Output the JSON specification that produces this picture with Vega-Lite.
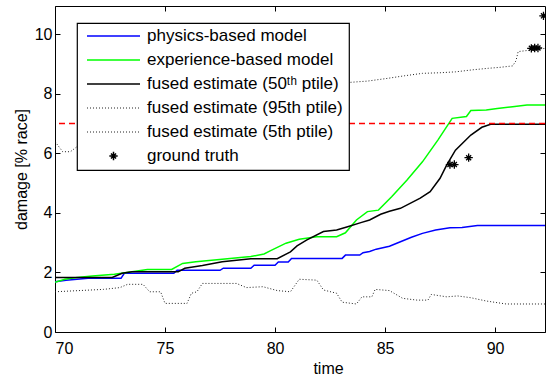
{
  "$schema": "https://vega.github.io/schema/vega-lite/v6.json",
  "width": 490,
  "height": 326,
  "autosize": {"type": "none"},
  "padding": {"left": 55, "top": 6, "right": 1, "bottom": 46},
  "background": "white",
  "config": {
    "view": {"stroke": "black", "strokeWidth": 1},
    "font": "Liberation Sans",
    "legend": {"fillColor": "white", "strokeColor": "black"},
    "axis": {"grid": false, "domain": false, "tickColor": "black", "tickWidth": 1, "labelColor": "black", "labelFontSize": 16, "labelFont": "Liberation Sans", "titleFont": "Liberation Sans", "titleFontSize": 16, "titleFontWeight": "normal", "titleColor": "black"}
  },
  "datasets": {
    "solid": [
      {"s": "physics-based model", "t": 70, "v": 1.69}, {"s": "physics-based model", "t": 70.5, "v": 1.74}, {"s": "physics-based model", "t": 71.5, "v": 1.8}, {"s": "physics-based model", "t": 73.0, "v": 1.8}, {"s": "physics-based model", "t": 73.15, "v": 1.97}, {"s": "physics-based model", "t": 75.4, "v": 1.97}, {"s": "physics-based model", "t": 75.55, "v": 2.07}, {"s": "physics-based model", "t": 77.5, "v": 2.07}, {"s": "physics-based model", "t": 77.65, "v": 2.14}, {"s": "physics-based model", "t": 78.9, "v": 2.14}, {"s": "physics-based model", "t": 79.05, "v": 2.24}, {"s": "physics-based model", "t": 80.0, "v": 2.24}, {"s": "physics-based model", "t": 80.15, "v": 2.35}, {"s": "physics-based model", "t": 80.6, "v": 2.35}, {"s": "physics-based model", "t": 80.75, "v": 2.47}, {"s": "physics-based model", "t": 83.05, "v": 2.47}, {"s": "physics-based model", "t": 83.2, "v": 2.58}, {"s": "physics-based model", "t": 83.85, "v": 2.58}, {"s": "physics-based model", "t": 84.0, "v": 2.66}, {"s": "physics-based model", "t": 84.3, "v": 2.7}, {"s": "physics-based model", "t": 84.6, "v": 2.78}, {"s": "physics-based model", "t": 85.2, "v": 2.88}, {"s": "physics-based model", "t": 85.7, "v": 3.03}, {"s": "physics-based model", "t": 86.2, "v": 3.18}, {"s": "physics-based model", "t": 86.7, "v": 3.31}, {"s": "physics-based model", "t": 87.3, "v": 3.42}, {"s": "physics-based model", "t": 87.95, "v": 3.5}, {"s": "physics-based model", "t": 88.5, "v": 3.51}, {"s": "physics-based model", "t": 89.2, "v": 3.57}, {"s": "physics-based model", "t": 92.3, "v": 3.57},
      {"s": "experience-based model", "t": 70, "v": 1.67}, {"s": "experience-based model", "t": 70.45, "v": 1.77}, {"s": "experience-based model", "t": 71.0, "v": 1.83}, {"s": "experience-based model", "t": 71.7, "v": 1.88}, {"s": "experience-based model", "t": 72.7, "v": 1.94}, {"s": "experience-based model", "t": 73.5, "v": 2.02}, {"s": "experience-based model", "t": 74.2, "v": 2.1}, {"s": "experience-based model", "t": 75.3, "v": 2.1}, {"s": "experience-based model", "t": 75.8, "v": 2.3}, {"s": "experience-based model", "t": 76.4, "v": 2.36}, {"s": "experience-based model", "t": 77.6, "v": 2.44}, {"s": "experience-based model", "t": 78.9, "v": 2.53}, {"s": "experience-based model", "t": 79.5, "v": 2.62}, {"s": "experience-based model", "t": 79.8, "v": 2.73}, {"s": "experience-based model", "t": 80.5, "v": 2.98}, {"s": "experience-based model", "t": 81.1, "v": 3.11}, {"s": "experience-based model", "t": 81.9, "v": 3.2}, {"s": "experience-based model", "t": 82.8, "v": 3.2}, {"s": "experience-based model", "t": 83.2, "v": 3.33}, {"s": "experience-based model", "t": 83.7, "v": 3.76}, {"s": "experience-based model", "t": 84.2, "v": 4.04}, {"s": "experience-based model", "t": 84.7, "v": 4.09}, {"s": "experience-based model", "t": 85.3, "v": 4.54}, {"s": "experience-based model", "t": 86.0, "v": 5.1}, {"s": "experience-based model", "t": 86.7, "v": 5.71}, {"s": "experience-based model", "t": 87.4, "v": 6.44}, {"s": "experience-based model", "t": 88.05, "v": 7.17}, {"s": "experience-based model", "t": 88.7, "v": 7.23}, {"s": "experience-based model", "t": 88.9, "v": 7.43}, {"s": "experience-based model", "t": 89.6, "v": 7.45}, {"s": "experience-based model", "t": 90.1, "v": 7.5}, {"s": "experience-based model", "t": 90.8, "v": 7.56}, {"s": "experience-based model", "t": 91.45, "v": 7.62}, {"s": "experience-based model", "t": 92.3, "v": 7.62},
      {"s": "fused estimate (50ᵗʰ ptile)", "t": 70, "v": 1.83}, {"s": "fused estimate (50ᵗʰ ptile)", "t": 72.6, "v": 1.83}, {"s": "fused estimate (50ᵗʰ ptile)", "t": 73.05, "v": 1.97}, {"s": "fused estimate (50ᵗʰ ptile)", "t": 73.5, "v": 2.02}, {"s": "fused estimate (50ᵗʰ ptile)", "t": 75.6, "v": 2.02}, {"s": "fused estimate (50ᵗʰ ptile)", "t": 75.9, "v": 2.14}, {"s": "fused estimate (50ᵗʰ ptile)", "t": 76.7, "v": 2.23}, {"s": "fused estimate (50ᵗʰ ptile)", "t": 77.6, "v": 2.36}, {"s": "fused estimate (50ᵗʰ ptile)", "t": 78.9, "v": 2.46}, {"s": "fused estimate (50ᵗʰ ptile)", "t": 80.1, "v": 2.46}, {"s": "fused estimate (50ᵗʰ ptile)", "t": 80.7, "v": 2.69}, {"s": "fused estimate (50ᵗʰ ptile)", "t": 81.0, "v": 2.89}, {"s": "fused estimate (50ᵗʰ ptile)", "t": 81.45, "v": 3.09}, {"s": "fused estimate (50ᵗʰ ptile)", "t": 82.2, "v": 3.37}, {"s": "fused estimate (50ᵗʰ ptile)", "t": 82.8, "v": 3.42}, {"s": "fused estimate (50ᵗʰ ptile)", "t": 83.3, "v": 3.53}, {"s": "fused estimate (50ᵗʰ ptile)", "t": 83.9, "v": 3.67}, {"s": "fused estimate (50ᵗʰ ptile)", "t": 84.3, "v": 3.76}, {"s": "fused estimate (50ᵗʰ ptile)", "t": 84.8, "v": 3.95}, {"s": "fused estimate (50ᵗʰ ptile)", "t": 85.2, "v": 4.05}, {"s": "fused estimate (50ᵗʰ ptile)", "t": 85.7, "v": 4.15}, {"s": "fused estimate (50ᵗʰ ptile)", "t": 86.6, "v": 4.49}, {"s": "fused estimate (50ᵗʰ ptile)", "t": 87.05, "v": 4.71}, {"s": "fused estimate (50ᵗʰ ptile)", "t": 87.5, "v": 5.16}, {"s": "fused estimate (50ᵗʰ ptile)", "t": 87.8, "v": 5.6}, {"s": "fused estimate (50ᵗʰ ptile)", "t": 88.2, "v": 6.1}, {"s": "fused estimate (50ᵗʰ ptile)", "t": 88.9, "v": 6.61}, {"s": "fused estimate (50ᵗʰ ptile)", "t": 89.4, "v": 6.87}, {"s": "fused estimate (50ᵗʰ ptile)", "t": 89.8, "v": 6.97}, {"s": "fused estimate (50ᵗʰ ptile)", "t": 92.3, "v": 6.97}
    ],
    "dotted": [
      {"s": "fused estimate (95th ptile)", "t": 70, "v": 6.39}, {"s": "fused estimate (95th ptile)", "t": 70.35, "v": 6.05}, {"s": "fused estimate (95th ptile)", "t": 70.7, "v": 6.05}, {"s": "fused estimate (95th ptile)", "t": 71.0, "v": 6.22}, {"s": "fused estimate (95th ptile)", "t": 72, "v": 6.7}, {"s": "fused estimate (95th ptile)", "t": 74, "v": 7.2}, {"s": "fused estimate (95th ptile)", "t": 76, "v": 7.5}, {"s": "fused estimate (95th ptile)", "t": 78, "v": 7.8}, {"s": "fused estimate (95th ptile)", "t": 80, "v": 8.0}, {"s": "fused estimate (95th ptile)", "t": 82, "v": 8.2}, {"s": "fused estimate (95th ptile)", "t": 83.45, "v": 8.38}, {"s": "fused estimate (95th ptile)", "t": 84.2, "v": 8.42}, {"s": "fused estimate (95th ptile)", "t": 85.1, "v": 8.51}, {"s": "fused estimate (95th ptile)", "t": 85.9, "v": 8.6}, {"s": "fused estimate (95th ptile)", "t": 86.7, "v": 8.68}, {"s": "fused estimate (95th ptile)", "t": 87.5, "v": 8.7}, {"s": "fused estimate (95th ptile)", "t": 88.2, "v": 8.73}, {"s": "fused estimate (95th ptile)", "t": 89.0, "v": 8.8}, {"s": "fused estimate (95th ptile)", "t": 89.7, "v": 8.85}, {"s": "fused estimate (95th ptile)", "t": 90.2, "v": 8.88}, {"s": "fused estimate (95th ptile)", "t": 90.8, "v": 8.93}, {"s": "fused estimate (95th ptile)", "t": 90.95, "v": 9.1}, {"s": "fused estimate (95th ptile)", "t": 91.05, "v": 9.41}, {"s": "fused estimate (95th ptile)", "t": 91.5, "v": 9.45}, {"s": "fused estimate (95th ptile)", "t": 92.3, "v": 9.52},
      {"s": "fused estimate (5th ptile)", "t": 70, "v": 1.35}, {"s": "fused estimate (5th ptile)", "t": 72.2, "v": 1.43}, {"s": "fused estimate (5th ptile)", "t": 72.95, "v": 1.49}, {"s": "fused estimate (5th ptile)", "t": 73.3, "v": 1.6}, {"s": "fused estimate (5th ptile)", "t": 74.0, "v": 1.6}, {"s": "fused estimate (5th ptile)", "t": 74.3, "v": 1.35}, {"s": "fused estimate (5th ptile)", "t": 74.8, "v": 1.35}, {"s": "fused estimate (5th ptile)", "t": 75.0, "v": 0.96}, {"s": "fused estimate (5th ptile)", "t": 76.0, "v": 0.96}, {"s": "fused estimate (5th ptile)", "t": 76.2, "v": 1.3}, {"s": "fused estimate (5th ptile)", "t": 76.45, "v": 1.35}, {"s": "fused estimate (5th ptile)", "t": 76.7, "v": 1.63}, {"s": "fused estimate (5th ptile)", "t": 78.25, "v": 1.63}, {"s": "fused estimate (5th ptile)", "t": 78.7, "v": 1.49}, {"s": "fused estimate (5th ptile)", "t": 79.45, "v": 1.52}, {"s": "fused estimate (5th ptile)", "t": 80.1, "v": 1.39}, {"s": "fused estimate (5th ptile)", "t": 80.7, "v": 1.35}, {"s": "fused estimate (5th ptile)", "t": 81.1, "v": 1.77}, {"s": "fused estimate (5th ptile)", "t": 81.9, "v": 1.74}, {"s": "fused estimate (5th ptile)", "t": 82.2, "v": 1.41}, {"s": "fused estimate (5th ptile)", "t": 82.8, "v": 1.3}, {"s": "fused estimate (5th ptile)", "t": 83.05, "v": 1.0}, {"s": "fused estimate (5th ptile)", "t": 83.7, "v": 0.94}, {"s": "fused estimate (5th ptile)", "t": 83.95, "v": 1.18}, {"s": "fused estimate (5th ptile)", "t": 84.4, "v": 1.18}, {"s": "fused estimate (5th ptile)", "t": 84.55, "v": 1.43}, {"s": "fused estimate (5th ptile)", "t": 85.2, "v": 1.39}, {"s": "fused estimate (5th ptile)", "t": 85.8, "v": 1.13}, {"s": "fused estimate (5th ptile)", "t": 86.45, "v": 1.07}, {"s": "fused estimate (5th ptile)", "t": 86.95, "v": 1.07}, {"s": "fused estimate (5th ptile)", "t": 87.1, "v": 1.26}, {"s": "fused estimate (5th ptile)", "t": 87.8, "v": 1.18}, {"s": "fused estimate (5th ptile)", "t": 88.3, "v": 1.21}, {"s": "fused estimate (5th ptile)", "t": 88.9, "v": 1.15}, {"s": "fused estimate (5th ptile)", "t": 89.6, "v": 1.04}, {"s": "fused estimate (5th ptile)", "t": 90.5, "v": 0.94}, {"s": "fused estimate (5th ptile)", "t": 92.3, "v": 0.94}
    ],
    "gt": [
      {"s": "ground truth", "t": 87.95, "v": 5.62}, {"s": "ground truth", "t": 88.15, "v": 5.62}, {"s": "ground truth", "t": 88.8, "v": 5.85}, {"s": "ground truth", "t": 91.65, "v": 9.52}, {"s": "ground truth", "t": 91.8, "v": 9.53}, {"s": "ground truth", "t": 91.95, "v": 9.53}, {"s": "ground truth", "t": 92.2, "v": 10.61}
    ],
    "threshold": [{"v": 7}]
  },
  "layer": [
    {
      "data": {"name": "dotted"},
      "mark": {"type": "line", "strokeDash": [1, 2], "strokeWidth": 1, "clip": true},
      "encoding": {
        "x": {"field": "t", "type": "quantitative", "axis": null},
        "y": {"field": "v", "type": "quantitative", "axis": null},
        "color": {"field": "s", "type": "nominal",
          "legend": {
            "orient": "none", "legendX": 22, "legendY": 17, "title": null, "zindex": 2,
            "fillColor": "white", "strokeColor": "black", "padding": 6,
            "labelFontSize": 17, "labelFont": "Liberation Sans", "labelColor": "black", "labelOffset": 25, "symbolOffset": 22, "labelLimit": 400,
            "symbolType": "stroke", "symbolSize": 2809, "clipHeight": 14, "rowPadding": 7, "symbolStrokeWidth": 1.5,
            "encode": {
              "legend": {"update": {"fill": {"value": "white"}, "stroke": {"value": "black"}, "strokeWidth": {"value": 1.2}}},
              "symbols": {"update": {
                "shape": {"signal": "datum.value === 'ground truth' ? 'M-1,0H1M0,-1V1M-0.6,-0.6L0.6,0.6M-0.6,0.6L0.6,-0.6' : 'stroke'"},
                "size": {"signal": "datum.value === 'ground truth' ? 70 : 2809"},
                "strokeDash": {"signal": "indexof(['fused estimate (95th ptile)', 'fused estimate (5th ptile)'], datum.value) >= 0 ? [1, 2] : null"},
                "strokeWidth": {"signal": "indexof(['fused estimate (95th ptile)', 'fused estimate (5th ptile)'], datum.value) >= 0 ? 1 : 1.5"}
              }}
            }
          }
        }
      }
    },
    {
      "data": {"name": "solid"},
      "mark": {"type": "line", "strokeWidth": 1.5, "clip": true},
      "encoding": {
        "x": {"field": "t", "type": "quantitative", "scale": {"domain": [70, 92.27], "nice": false, "zero": false},
          "axis": {"orient": "bottom", "values": [70, 75, 80, 85, 90], "tickSize": -5, "labelPadding": 13, "title": "time", "titleX": 273, "titlePadding": 4}},
        "y": {"field": "v", "type": "quantitative", "scale": {"domain": [0, 10.94], "nice": false},
          "axis": {"orient": "left", "values": [0, 2, 4, 6, 8, 10], "tickSize": -5, "labelPadding": 8, "title": "damage [% race]", "titlePadding": 5}},
        "color": {"field": "s", "type": "nominal",
          "scale": {"domain": ["physics-based model", "experience-based model", "fused estimate (50ᵗʰ ptile)", "fused estimate (95th ptile)", "fused estimate (5th ptile)", "ground truth"],
            "range": ["#0000ff", "#00ff00", "#000000", "#222222", "#222222", "#000000"]},
          "legend": {
            "orient": "none", "legendX": 22, "legendY": 17, "title": null, "zindex": 2,
            "fillColor": "white", "strokeColor": "black", "padding": 6,
            "labelFontSize": 17, "labelFont": "Liberation Sans", "labelColor": "black", "labelOffset": 25, "symbolOffset": 22, "labelLimit": 400,
            "symbolType": "stroke", "symbolSize": 2809, "clipHeight": 14, "rowPadding": 7, "symbolStrokeWidth": 1.5,
            "encode": {
              "legend": {"update": {"fill": {"value": "white"}, "stroke": {"value": "black"}, "strokeWidth": {"value": 1.2}}},
              "symbols": {"update": {
                "shape": {"signal": "datum.value === 'ground truth' ? 'M-1,0H1M0,-1V1M-0.6,-0.6L0.6,0.6M-0.6,0.6L0.6,-0.6' : 'stroke'"},
                "size": {"signal": "datum.value === 'ground truth' ? 70 : 2809"},
                "strokeDash": {"signal": "indexof(['fused estimate (95th ptile)', 'fused estimate (5th ptile)'], datum.value) >= 0 ? [1, 2] : null"},
                "strokeWidth": {"signal": "indexof(['fused estimate (95th ptile)', 'fused estimate (5th ptile)'], datum.value) >= 0 ? 1 : 1.5"}
              }}
            }
          }
        }
      }
    },
    {
      "data": {"name": "threshold"},
      "mark": {"type": "rule", "color": "#ff0000", "strokeDash": [6, 4], "strokeWidth": 1.5},
      "encoding": {"y": {"field": "v", "type": "quantitative", "axis": null}}
    },
    {
      "data": {"name": "gt"},
      "mark": {"type": "point", "shape": "M-1,0H1M0,-1V1M-0.6,-0.6L0.6,0.6M-0.6,0.6L0.6,-0.6", "size": 70, "filled": false, "strokeWidth": 1.3, "opacity": 1, "clip": true},
      "encoding": {
        "x": {"field": "t", "type": "quantitative", "axis": {"orient": "top", "values": [70, 75, 80, 85, 90], "tickSize": -5, "labels": false, "title": null}},
        "y": {"field": "v", "type": "quantitative", "axis": {"orient": "right", "values": [0, 2, 4, 6, 8, 10], "tickSize": -5, "labels": false, "title": null}},
        "color": {"field": "s", "type": "nominal",
          "legend": {
            "orient": "none", "legendX": 22, "legendY": 17, "title": null, "zindex": 2,
            "fillColor": "white", "strokeColor": "black", "padding": 6,
            "labelFontSize": 17, "labelFont": "Liberation Sans", "labelColor": "black", "labelOffset": 25, "symbolOffset": 22, "labelLimit": 400,
            "symbolType": "stroke", "symbolSize": 2809, "clipHeight": 14, "rowPadding": 7, "symbolStrokeWidth": 1.5,
            "encode": {
              "legend": {"update": {"fill": {"value": "white"}, "stroke": {"value": "black"}, "strokeWidth": {"value": 1.2}}},
              "symbols": {"update": {
                "shape": {"signal": "datum.value === 'ground truth' ? 'M-1,0H1M0,-1V1M-0.6,-0.6L0.6,0.6M-0.6,0.6L0.6,-0.6' : 'stroke'"},
                "size": {"signal": "datum.value === 'ground truth' ? 70 : 2809"},
                "strokeDash": {"signal": "indexof(['fused estimate (95th ptile)', 'fused estimate (5th ptile)'], datum.value) >= 0 ? [1, 2] : null"},
                "strokeWidth": {"signal": "indexof(['fused estimate (95th ptile)', 'fused estimate (5th ptile)'], datum.value) >= 0 ? 1 : 1.5"}
              }}
            }
          }
        }
      }
    }
  ],
  "resolve": {"axis": {"x": "independent", "y": "independent"}}
}
